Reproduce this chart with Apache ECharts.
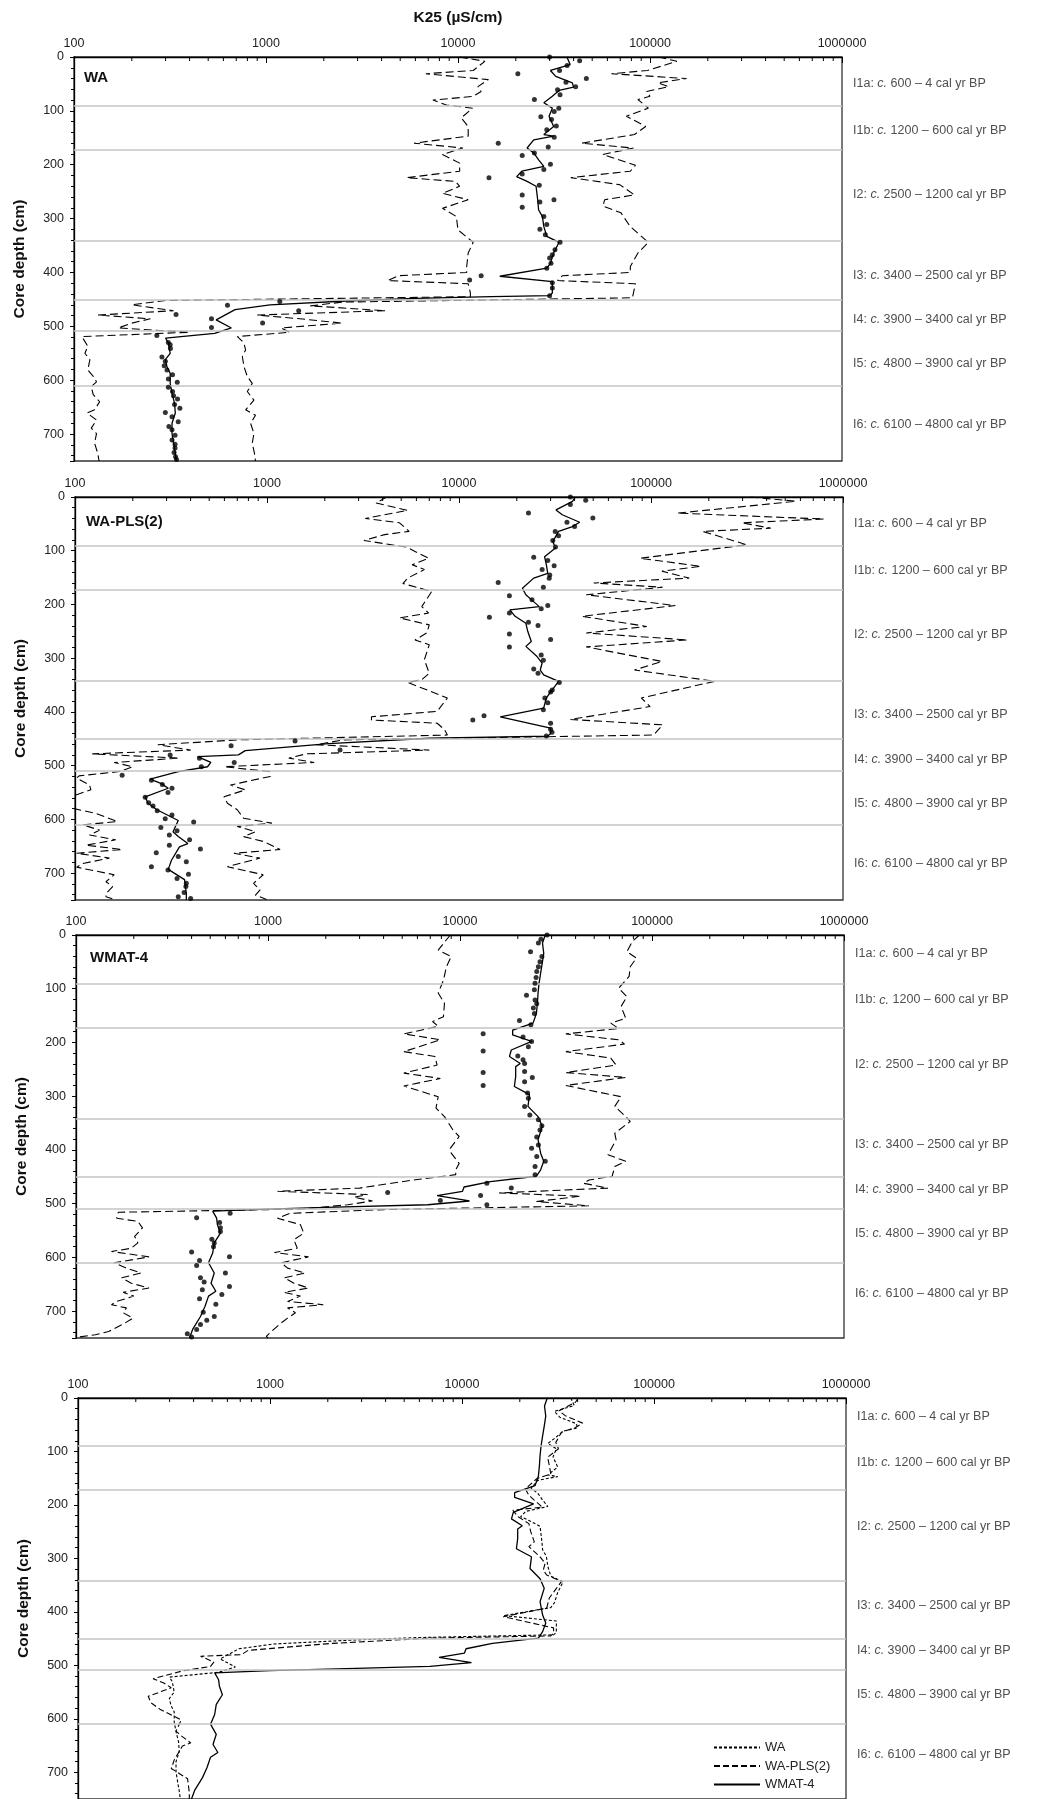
<!DOCTYPE html>
<html>
<head>
<meta charset="utf-8">
<title>K25 reconstructions</title>
<script src="https://cdn.jsdelivr.net/npm/echarts@6.0.0/dist/echarts.min.js"></script>
<style>
  html, body { margin: 0; padding: 0; background: #fff; }
  #main { width: 1043px; height: 1799px; }
</style>
</head>
<body>
<div id="main"></div>
<script>
// ---- WA ----
var waMainDepth = [0,14,25,36,48,56,62,73,85,95,110,129,144,147,154,169,178,191,203,212,222,231,240,265,284,296,315,333,344,364,383,392,407,417,438,443,445,448,453,460,469,488,503,513,522,531,550,562,575,587,606,624,643,661,680,699,717,736,750];
var waMainK25 = [36900,38400,30300,32300,39400,40000,33600,31000,28000,31000,29800,31500,28000,31500,24800,22900,24800,26300,28000,21500,20200,22900,25500,26000,26300,27500,28000,29000,33600,31500,30300,29000,16500,31000,31000,30000,15000,6000,2600,1050,690,550,660,540,300,310,317,299,305,317,317,324,334,337,324,324,330,337,341];
var waDotDepth = [0,7,16,25,31,40,47,55,61,70,79,95,101,111,116,128,135,149,160,167,178,183,199,209,217,224,238,256,265,269,279,296,311,320,330,344,358,367,373,383,392,406,414,419,429,443,454,461,471,478,486,494,502,517,530,534,541,557,565,573,581,590,598,604,613,621,629,635,645,652,660,668,677,686,692,702,711,719,726,734,742,747];
var waDotK25 = [30000,43000,37000,33800,20500,46600,36500,41000,33000,34000,25000,33500,31700,27000,30700,32500,29000,31700,16200,29500,25000,21600,30300,28000,21600,14500,26500,21600,31600,26700,21600,28000,29000,26700,28500,34000,32000,31000,30000,30500,29000,13200,11500,31000,31000,30000,1180,630,1480,340,520,960,520,270,310,317,318,287,299,295,305,326,310,345,310,326,330,346,334,356,299,324,349,312,324,336,324,336,336,332,338,342];
var waLowDepth = [0,8,25,31,42,55,64,73,80,89,95,113,129,147,160,169,181,197,212,224,231,240,253,265,281,296,321,344,364,389,400,406,415,421,438,445,452,460,471,479,486,494,503,511,519,537,550,562,581,593,603,612,627,640,655,661,674,689,699,717,736,750];
var waLowK25 = [10200,13800,12000,6800,14400,12700,13200,12000,7400,8700,11900,10400,11300,11300,5900,10600,8300,10200,10200,5400,9700,10200,8300,11300,8300,9800,10000,12000,11300,11100,11100,4900,4300,11300,11600,11600,300,200,330,133,250,200,170,400,110,118,114,121,118,126,131,123,126,136,128,117,131,123,131,128,133,135];
var waHighDepth = [0,8,25,31,40,48,55,64,73,79,95,110,129,144,160,169,181,201,212,224,237,256,265,277,289,315,344,364,389,400,406,415,421,438,447,455,462,471,479,486,494,503,511,519,531,544,556,575,593,606,621,637,655,665,680,699,717,736,750];
var waHighK25 = [110600,138000,97000,63000,155000,110000,125000,96000,100000,86500,98000,75300,95000,83000,44000,82000,56800,84000,79000,38700,69500,83000,58000,57000,70500,79000,98000,86500,79000,79000,35000,33000,84000,82000,81000,2500,1700,4200,900,1500,2500,1200,1330,710,768,783,753,768,799,848,799,865,783,882,831,865,848,871,882];

// ---- WA-PLS(2) ----
var plsMainDepth = [0,8,24,33,47,55,64,83,95,111,126,142,151,170,182,191,204,210,222,235,250,269,278,297,309,322,331,343,359,374,393,409,430,440,445,449,459,472,480,483,494,502,511,525,533,542,558,570,582,602,623,632,645,651,676,693,712,738,750];
var plsMainK25 = [40300,39000,32000,34500,42500,39000,33000,30800,31800,27900,28500,29000,24500,21400,22300,23800,26200,18400,19600,22300,22800,23800,22300,25500,27100,26500,27600,33000,30600,28500,27600,16400,30000,30000,29000,7000,2100,770,710,435,510,490,345,246,280,306,232,240,267,345,324,345,387,350,318,306,372,380,380];
var plsDotDepth = [0,6,14,30,39,47,55,64,72,81,93,112,118,128,135,145,151,159,168,184,191,202,208,216,224,233,239,255,265,279,294,304,320,328,345,359,363,374,383,396,407,415,421,432,438,445,454,463,471,480,486,494,502,518,527,535,542,550,559,569,575,584,592,599,605,615,621,629,638,648,655,662,669,679,688,694,702,710,719,725,736,744,747];
var plsDotK25 = [38000,45700,38000,23000,49800,36500,40000,31700,33000,30800,31800,24500,29000,31300,27100,29700,29500,16000,27500,18300,24000,29000,26800,18300,14400,23000,25800,18300,30000,18300,26800,27500,24500,25800,33300,30600,30000,28000,29000,27500,13500,11800,30000,30000,30500,28500,1400,650,2400,313,445,675,455,176,250,285,320,305,232,242,255,268,320,295,415,280,340,310,395,310,450,265,345,380,250,305,390,340,380,378,370,345,400];
var plsLowDepth = [0,11,25,40,48,64,70,81,93,114,126,135,151,161,176,204,216,225,238,253,266,275,303,328,340,345,374,399,409,415,421,433,443,452,461,471,478,486,494,502,511,519,523,536,545,554,560,579,589,604,610,620,629,638,648,656,663,672,682,689,703,716,725,738,744,749];
var plsLowK25 = [4200,3700,5400,3250,4900,5500,4100,3200,5300,6950,5700,6600,5400,5100,7200,6400,6950,4900,7000,6800,5900,7000,6600,7000,6400,5400,8700,7700,3500,3500,7700,8400,8700,700,270,400,123,350,160,200,170,105,102,119,121,102,98,96,129,166,110,134,119,163,114,176,102,151,110,102,160,145,157,145,145,160];
var plsHighDepth = [0,8,30,41,48,58,64,89,114,129,138,151,160,168,182,202,222,241,253,266,279,306,322,343,374,390,414,424,443,452,461,471,478,486,494,502,511,520,536,545,558,570,582,598,607,613,623,632,641,656,663,672,688,703,719,731,741,749];
var plsHighK25 = [330000,569000,137000,795000,297000,420000,186000,316000,87800,182000,114000,158000,50300,115000,46000,134000,43700,95000,46000,155000,46000,114000,82000,215000,89000,99000,38000,115000,103000,2500,1800,7000,1600,1300,1760,600,1030,1040,645,771,597,622,700,756,1060,700,871,756,956,1170,673,920,622,956,851,920,871,995];

// ---- WMAT-4 ----
var matMainDepth = [0,15,34,53,71,90,108,127,146,164,177,186,198,214,226,239,245,263,282,297,319,338,356,381,406,421,437,449,459,469,477,485,495,502,507,510,514,527,539,555,573,592,610,629,648,663,672,691,710,734,750];
var matMainK25 = [27800,26900,27300,26800,26300,25800,25500,25300,25000,24000,18800,18800,23600,18500,18100,20600,19500,19500,19200,23000,22600,25500,26800,25500,26300,27300,26300,25000,14400,10500,10300,7600,11200,6800,2000,1000,515,540,545,565,525,515,490,525,505,535,490,470,445,405,390];
var matDotDepth = [0,8,15,31,40,50,59,68,79,90,102,112,121,128,136,146,159,167,184,190,198,208,216,225,232,239,254,256,265,273,280,294,304,319,335,344,355,363,376,391,397,412,421,431,446,462,471,479,485,494,502,518,526,535,545,552,566,573,580,590,599,606,615,629,638,646,654,660,669,677,687,702,710,717,725,734,742,748];
var matDotK25 = [28400,26400,25600,23300,26700,26100,25600,25100,24900,24600,24400,22200,24600,25100,24100,24400,20400,23400,13200,21300,23600,22700,13200,20000,21300,21700,21700,13200,23800,21700,13200,22500,22700,21700,23100,25600,26700,26100,25100,25600,23600,25100,27800,24600,24600,13800,18500,4200,12800,7900,13800,635,425,560,565,565,510,525,520,400,630,440,425,600,445,465,630,455,575,440,535,460,525,480,445,425,380,400];
var matLowDepth = [0,28,40,59,84,108,127,152,161,170,184,195,217,226,242,257,267,281,301,322,338,363,375,397,406,425,437,446,455,462,471,477,483,488,495,502,510,516,527,533,545,561,573,583,589,599,610,620,629,638,648,657,665,672,682,688,694,703,713,722,738,744,748,750];
var matLowK25 = [8900,7700,9000,8500,8200,7700,8300,8200,7200,7700,5100,7900,5100,7400,7600,5100,7900,5100,7700,7500,8300,9200,9900,8900,9000,9900,9500,9500,6000,4400,3000,1120,3300,2800,3500,2600,1500,166,163,210,222,202,210,194,153,240,158,183,218,173,194,240,176,200,163,153,183,176,198,180,148,126,104,100];
var matHighDepth = [0,12,31,43,59,77,99,115,133,155,164,174,184,195,203,217,229,242,256,265,280,301,319,338,347,369,381,409,421,431,449,456,462,471,480,486,496,504,511,518,527,539,555,567,583,591,599,610,620,629,638,648,657,665,672,682,688,694,703,713,722,738,747,750];
var matHighK25 = [86000,79000,74000,83000,77000,76000,67000,74000,69000,73000,61000,67000,35600,67000,72000,35600,61000,65000,35600,73000,35600,69000,64000,73000,77000,64000,65000,59000,73000,64000,62000,47000,44000,59000,16000,42500,25000,47000,4000,1300,1120,1475,1535,1365,1420,1080,1625,1170,1265,1560,1215,1365,1625,1215,1475,1265,1940,1265,1390,1265,1170,1040,980,1000];

// zones
var zoneDepths = [90, 172, 342, 450, 509, 610];
var zoneCodes = ['I1a', 'I1b', 'I2', 'I3', 'I4', 'I5', 'I6'];
var zoneAges = ['600 – 4', '1200 – 600', '2500 – 1200', '3400 – 2500', '3900 – 3400', '4800 – 3900', '6100 – 4800'];
var zoneLabelDepth = [50, 136, 256, 405, 488, 570, 683];

// log axis minor ticks (2..9 in each decade)
var decades = [100, 1000, 10000, 100000];
var minorSteps = [2, 3, 4, 5, 6, 7, 8, 9];

var FONT = '"Liberation Sans", Arial, sans-serif';

function pairs(depths, vals) {
    return depths.map(function (d, i) { return [vals[i], d]; });
}

var minorTickVals = [];
decades.forEach(function (d) {
    minorSteps.forEach(function (m) { minorTickVals.push(d * m); });
});

var panels = [
    { title: 'WA', titleX: 84, titleY: 70, grid: { left: 74, top: 57, width: 768, height: 404 }, labelShift: 0,
      main: [waMainDepth, waMainK25], dots: [waDotDepth, waDotK25], low: [waLowDepth, waLowK25], high: [waHighDepth, waHighK25] },
    { title: 'WA-PLS(2)', titleX: 86, titleY: 514, grid: { left: 75, top: 497, width: 768, height: 403 }, labelShift: 0,
      main: [plsMainDepth, plsMainK25], dots: [plsDotDepth, plsDotK25], low: [plsLowDepth, plsLowK25], high: [plsHighDepth, plsHighK25] },
    { title: 'WMAT-4', titleX: 90, titleY: 950, grid: { left: 76, top: 935, width: 768, height: 403 }, labelShift: -15,
      main: [matMainDepth, matMainK25], dots: [matDotDepth, matDotK25], low: [matLowDepth, matLowK25], high: [matHighDepth, matHighK25] },
    { title: '', grid: { left: 78, top: 1398, width: 768, height: 405 }, labelShift: -16 }
];

var grids = [], xAxes = [], yAxes = [], series = [], graphics = [];

graphics.push({
    type: 'text', x: 458, y: 10,
    style: { text: 'K25 (µS/cm)', font: 'bold 15.5px ' + FONT, fill: '#111', align: 'center', verticalAlign: 'top' }
});

panels.forEach(function (p, i) {
    grids.push(Object.assign({ show: true, borderColor: '#333', borderWidth: 1.3, containLabel: false }, p.grid));

    xAxes.push({
        type: 'log', logBase: 10, min: 100, max: 1000000, gridIndex: i, position: 'top',
        axisLine: { show: true, lineStyle: { color: '#000', width: 1.3 } },
        axisTick: { show: true, inside: true, length: 6, lineStyle: { color: '#000' } },
        axisLabel: { formatter: function (v) { return String(Math.round(v)); }, fontSize: 12.5, fontFamily: FONT, color: '#222', margin: 7 },
        splitLine: { show: false }
    });

    yAxes.push({
        type: 'value', gridIndex: i, inverse: true, min: 0, max: 750, interval: 100,
        name: 'Core depth (cm)', nameLocation: 'middle', nameGap: 46, nameRotate: 90,
        nameTextStyle: { fontWeight: 'bold', fontSize: 15.5, fontFamily: FONT, color: '#111' },
        axisLine: { show: true, lineStyle: { color: '#000', width: 1.3 } },
        axisTick: { show: true, length: 4, lineStyle: { color: '#000' } },
        minorTick: { show: true, splitNumber: 5, length: 3, lineStyle: { color: '#000' } },
        axisLabel: { showMaxLabel: false, margin: 10, fontSize: 12.5, fontFamily: FONT, color: '#222' },
        splitLine: { show: false }
    });

    if (p.title) {
        graphics.push({
            type: 'text', x: p.titleX, y: p.titleY,
            style: { text: p.title, font: 'bold 15px ' + FONT, fill: '#111', verticalAlign: 'top' }
        });
    }

    // zone boundaries + zone labels
    series.push({
        name: 'zones' + i, type: 'scatter', xAxisIndex: i, yAxisIndex: i, z: 1, silent: true, clip: false,
        symbolSize: 0.1, itemStyle: { color: 'rgba(0,0,0,0)' },
        data: zoneLabelDepth.map(function (d) { return [1000000, d + p.labelShift]; }),
        label: {
            show: true, position: 'right', distance: 11,
            formatter: function (prm) {
                return '{n|' + zoneCodes[prm.dataIndex] + ': }{i|c.}{n| ' + zoneAges[prm.dataIndex] + ' cal yr BP}';
            },
            rich: {
                n: { fontSize: 12.5, fontFamily: FONT, color: '#222' },
                i: { fontSize: 12.5, fontFamily: FONT, color: '#222', fontStyle: 'italic' }
            }
        },
        markLine: {
            silent: true, symbol: 'none', animation: false,
            label: { show: false },
            lineStyle: { color: '#c4c4c4', width: 1.6, type: 'solid' },
            data: zoneDepths.map(function (d) { return { yAxis: d }; })
        }
    });

    // minor log ticks
    series.push({
        name: 'ticks' + i, type: 'custom', xAxisIndex: i, yAxisIndex: i, z: 6, silent: true, clip: false,
        data: minorTickVals.map(function (v) { return [v, 0]; }),
        encode: { x: 0, y: 1 },
        renderItem: function (params, api) {
            var pt = api.coord([api.value(0), 0]);
            return { type: 'line', shape: { x1: pt[0], y1: pt[1], x2: pt[0], y2: pt[1] + 4 }, style: { stroke: '#000', lineWidth: 1 } };
        }
    });

    if (i < 3) {
        var dash = { color: '#000', width: 1.1, type: [8, 4] };
        series.push({ name: p.title + ' low', type: 'line', xAxisIndex: i, yAxisIndex: i, symbol: 'none', z: 3,
            data: pairs(p.low[0], p.low[1]), lineStyle: dash });
        series.push({ name: p.title + ' high', type: 'line', xAxisIndex: i, yAxisIndex: i, symbol: 'none', z: 3,
            data: pairs(p.high[0], p.high[1]), lineStyle: dash });
        series.push({ name: p.title + ' est', type: 'line', xAxisIndex: i, yAxisIndex: i, symbol: 'none', z: 4,
            data: pairs(p.main[0], p.main[1]), lineStyle: { color: '#000', width: 1.3 } });
        series.push({ name: p.title + ' samples', type: 'scatter', xAxisIndex: i, yAxisIndex: i, z: 5,
            symbol: 'circle', symbolSize: 5, itemStyle: { color: '#000' },
            data: pairs(p.dots[0], p.dots[1]) });
    } else {
        series.push({ name: 'WA', type: 'line', xAxisIndex: i, yAxisIndex: i, symbol: 'none', z: 3,
            data: pairs(waMainDepth, waMainK25), lineStyle: { color: '#000', width: 1.1, type: [3, 2] } });
        series.push({ name: 'WA-PLS(2)', type: 'line', xAxisIndex: i, yAxisIndex: i, symbol: 'none', z: 3,
            data: pairs(plsMainDepth, plsMainK25), lineStyle: { color: '#000', width: 1.1, type: [6, 3] } });
        series.push({ name: 'WMAT-4', type: 'line', xAxisIndex: i, yAxisIndex: i, symbol: 'none', z: 4,
            data: pairs(matMainDepth, matMainK25), lineStyle: { color: '#000', width: 1.3 } });
    }
});

var myChart = echarts.init(document.getElementById('main'), null, { renderer: 'canvas' });
myChart.setOption({
    animation: false,
    backgroundColor: '#fff',
    textStyle: { fontFamily: FONT },
    grid: grids,
    xAxis: xAxes,
    yAxis: yAxes,
    legend: {
        data: ['WA', 'WA-PLS(2)', 'WMAT-4'],
        orient: 'vertical', left: 713, top: 1741, padding: 0,
        itemWidth: 46, itemHeight: 14, itemGap: 5.5,
        selectedMode: false,
        itemStyle: { opacity: 0 },
        textStyle: { fontSize: 13, fontFamily: FONT, color: '#222' }
    },
    graphic: graphics,
    series: series
});
</script>
</body>
</html>
